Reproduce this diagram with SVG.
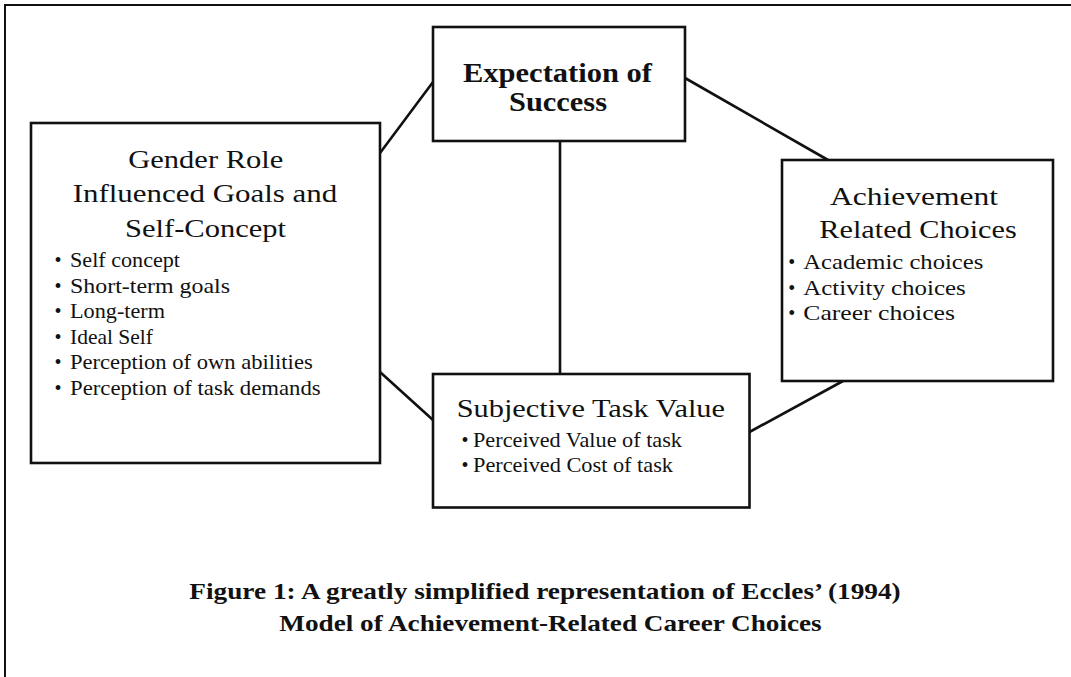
<svg xmlns="http://www.w3.org/2000/svg" width="1071" height="677" viewBox="0 0 1071 677">
<style>
  .bg { fill: #ffffff; }
  .frame { fill: none; stroke: #111; stroke-width: 2; }
  .box { fill: #ffffff; stroke: #111; stroke-width: 2.6; }
  .conn { fill: none; stroke: #111; stroke-width: 2.6; stroke-linecap: round; }
  text { font-family: "Liberation Serif", "Times New Roman", serif; fill: #111; }
  .title { font-size: 26px; }
  .btitle { font-size: 27px; font-weight: bold; }
  .item { font-size: 22px; }
  .bul { font-size: 20px; text-anchor: middle; }
  .cap { font-size: 24px; font-weight: bold; }
</style>
<rect class="bg" x="0" y="0" width="1071" height="677"/>
<polyline class="frame" points="5,677 5,5 1071,5"/>

<g id="connectors">
  <line class="conn" x1="380" y1="153" x2="433" y2="82"/>
  <line class="conn" x1="685" y1="78" x2="828" y2="160"/>
  <line class="conn" x1="560" y1="141" x2="560" y2="374"/>
  <line class="conn" x1="380" y1="372" x2="433" y2="420"/>
  <line class="conn" x1="749.5" y1="432" x2="843" y2="381"/>
</g>

<g id="node-gender">
  <rect class="box" x="31" y="123" width="349" height="340"/>
  <text class="title" x="128.3" y="168.3" textLength="155" lengthAdjust="spacingAndGlyphs">Gender Role</text>
  <text class="title" x="72.7" y="201.7" textLength="264.6" lengthAdjust="spacingAndGlyphs">Influenced Goals and</text>
  <text class="title" x="125" y="236.7" textLength="161" lengthAdjust="spacingAndGlyphs">Self-Concept</text>
  <text class="bul" x="58" y="266.7">•</text>
  <text class="item" x="70" y="266.7" textLength="110" lengthAdjust="spacingAndGlyphs">Self concept</text>
  <text class="bul" x="58" y="292.7">•</text>
  <text class="item" x="70" y="292.7" textLength="160" lengthAdjust="spacingAndGlyphs">Short-term goals</text>
  <text class="bul" x="58" y="318.3">•</text>
  <text class="item" x="70" y="318.3" textLength="95" lengthAdjust="spacingAndGlyphs">Long-term</text>
  <text class="bul" x="58" y="344">•</text>
  <text class="item" x="70" y="344" textLength="83" lengthAdjust="spacingAndGlyphs">Ideal Self</text>
  <text class="bul" x="58" y="369.3">•</text>
  <text class="item" x="70" y="369.3" textLength="242.7" lengthAdjust="spacingAndGlyphs">Perception of own abilities</text>
  <text class="bul" x="58" y="395">•</text>
  <text class="item" x="70" y="395" textLength="250.7" lengthAdjust="spacingAndGlyphs">Perception of task demands</text>
</g>

<g id="node-expectation">
  <rect class="box" x="433" y="27" width="252" height="114"/>
  <text class="btitle" x="463" y="81.7" textLength="189" lengthAdjust="spacingAndGlyphs">Expectation of</text>
  <text class="btitle" x="509" y="110.7" textLength="98" lengthAdjust="spacingAndGlyphs">Success</text>
</g>

<g id="node-achievement">
  <rect class="box" x="782" y="160" width="271" height="221"/>
  <text class="title" x="830" y="205" textLength="168" lengthAdjust="spacingAndGlyphs">Achievement</text>
  <text class="title" x="819.3" y="238.3" textLength="197.4" lengthAdjust="spacingAndGlyphs">Related Choices</text>
  <text class="bul" x="791.7" y="269">•</text>
  <text class="item" x="803.3" y="269" textLength="180" lengthAdjust="spacingAndGlyphs">Academic choices</text>
  <text class="bul" x="791.7" y="295">•</text>
  <text class="item" x="803.3" y="295" textLength="162.4" lengthAdjust="spacingAndGlyphs">Activity choices</text>
  <text class="bul" x="791.7" y="320">•</text>
  <text class="item" x="803.3" y="320" textLength="151.7" lengthAdjust="spacingAndGlyphs">Career choices</text>
</g>

<g id="node-subjective">
  <rect class="box" x="433" y="374" width="316.5" height="133.5"/>
  <text class="title" x="456.7" y="416.7" textLength="268.3" lengthAdjust="spacingAndGlyphs">Subjective Task Value</text>
  <text class="bul" x="465" y="447.3">•</text>
  <text class="item" x="473" y="447.3" textLength="209" lengthAdjust="spacingAndGlyphs">Perceived Value of task</text>
  <text class="bul" x="465" y="471.7">•</text>
  <text class="item" x="473" y="471.7" textLength="200" lengthAdjust="spacingAndGlyphs">Perceived Cost of task</text>
</g>

<g id="caption">
  <text class="cap" x="189.3" y="599.3" textLength="711.4" lengthAdjust="spacingAndGlyphs">Figure 1: A greatly simplified representation of Eccles’ (1994)</text>
  <text class="cap" x="279.3" y="631" textLength="542.4" lengthAdjust="spacingAndGlyphs">Model of Achievement-Related Career Choices</text>
</g>
</svg>
